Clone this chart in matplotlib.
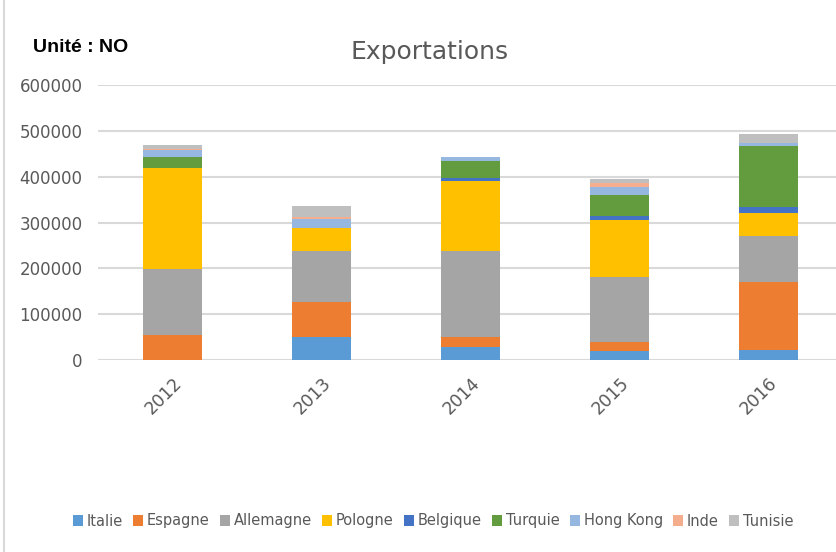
import matplotlib
matplotlib.use("Agg")
import matplotlib.pyplot as plt
import numpy as np
from matplotlib.lines import Line2D

years = ["2012", "2013", "2014", "2015", "2016"]
series_names = ["Italie", "Espagne", "Allemagne", "Pologne", "Belgique",
                "Turquie", "Hong Kong", "Inde", "Tunisie"]
italie    = [0,      50000,  28000,  20000,  22000]
espagne   = [55000,  77000,  22000,  20000,  149000]
allemagne = [144000, 111000, 188000, 141000, 100000]
pologne   = [220000, 49000,  153000, 125000, 50000]
belgique  = [0,      0,      7000,   9000,   13000]
turquie   = [24000,  2000,   36000,  45000,  133000]
hongkong  = [15500,  19000,  10000,  17500,  7000]
inde      = [2000,   3000,   0,      8500,   0]
tunisie   = [8000,   25000,  0,      9000,   19500]
yticks = [0, 100000, 200000, 300000, 400000, 500000, 600000]

colors = ["#5B9BD5", "#ED7D31", "#A5A5A5", "#FFC000", "#4472C4",
          "#639B3F", "#95B7E0", "#F4AE8D", "#BFBFBF"]
data = [italie, espagne, allemagne, pologne, belgique, turquie, hongkong, inde, tunisie]

W, H = 836, 552
fig = plt.figure(figsize=(W/100, H/100), dpi=100)
ax = fig.add_axes([98/W, (H-360)/H, 745/W, 275/H])

x = np.arange(len(years))
bottom = np.zeros(len(years))
for name, vals, c in zip(series_names, data, colors):
    ax.bar(x, vals, bottom=bottom, width=0.4, color=c, label=name, zorder=3)
    bottom += np.array(vals)

ax.set_xlim(-0.5, 4.5)
ax.set_ylim(0, 600000)
ax.set_yticks(yticks)
ax.set_yticklabels([str(v) for v in yticks])
ax.yaxis.grid(True, color="#D9D9D9", linewidth=1.5, zorder=0)
ax.set_axisbelow(True)
for s in ax.spines.values():
    s.set_visible(False)
ax.tick_params(axis="both", length=0, colors="#595959")
ax.tick_params(axis="y", pad=11, labelsize=12)
ax.set_xticks(x)
ax.set_xticklabels(years, rotation=45, ha="right", rotation_mode="anchor")
ax.tick_params(axis="x", pad=10, labelsize=12.5)

fig.text(430/W, 1-52/H, "Exportations", ha="center", va="center",
         fontsize=18, color="#595959")
fig.text(33/W, 1-48/H, "Unité : NO", ha="left", va="center",
         fontsize=14, fontweight="bold", color="black", family="Liberation Sans")

fig.add_artist(Line2D([4/W, 4/W], [0, 1], color="#D9D9D9", linewidth=1.5))

h, l = ax.get_legend_handles_labels()
leg = fig.legend(h, l, loc="center", bbox_to_anchor=(433/W, 1-521/H), ncol=9,
                 frameon=False, fontsize=10.5, handlelength=0.7, handleheight=0.7,
                 handletextpad=0.25, columnspacing=0.7, labelcolor="#595959")

fig.savefig("out.png", dpi=100)
